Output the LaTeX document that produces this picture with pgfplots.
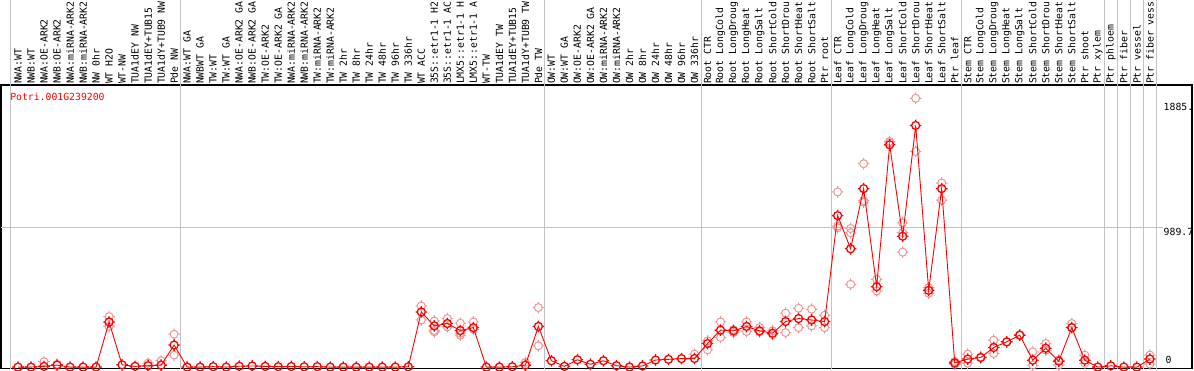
\documentclass[border=0pt]{standalone}
\usepackage{fontspec}
\setmainfont{DejaVu Sans Mono}
\usepackage{pgfplots}
\pgfplotsset{compat=1.18}
\definecolor{rep}{RGB}{238,150,150}
\definecolor{gridc}{RGB}{195,195,195}
\newcommand\lab{\fontsize{9.8}{9.8}\selectfont}
\pgfdeclareplotmark{tcirc}{%
  \pgfpathcircle{\pgfpointorigin}{\pgfplotmarksize}%
  \pgfpathmoveto{\pgfqpoint{0.8\pgfplotmarksize}{0pt}}\pgfpathlineto{\pgfqpoint{1.45\pgfplotmarksize}{0pt}}%
  \pgfpathmoveto{\pgfqpoint{-0.8\pgfplotmarksize}{0pt}}\pgfpathlineto{\pgfqpoint{-1.45\pgfplotmarksize}{0pt}}%
  \pgfpathmoveto{\pgfqpoint{0pt}{0.8\pgfplotmarksize}}\pgfpathlineto{\pgfqpoint{0pt}{1.45\pgfplotmarksize}}%
  \pgfpathmoveto{\pgfqpoint{0pt}{-0.8\pgfplotmarksize}}\pgfpathlineto{\pgfqpoint{0pt}{-1.45\pgfplotmarksize}}%
  \pgfusepathqstroke}
\begin{document}
\begin{tikzpicture}
\begin{axis}[
  at={(1pt,1.5pt)}, anchor=south west,
  scale only axis, width=1191pt, height=283.5pt,
  xmin=-0.307, xmax=91.24, ymin=-10, ymax=2000,
  enlargelimits=false,
  axis line style={black, line width=1.3pt},
  clip mode=individual,
  xtick={1,...,88},
  xticklabel pos=upper,
  major tick length=0pt,
  ytick=\empty,
  x tick label style={rotate=90, anchor=west, inner sep=0.8pt, font=\lab},
  xticklabels={NWA:WT,NWB:WT,NWA:OE-ARK2,NWB:OE-ARK2,NWA:miRNA-ARK2,NWB:miRNA-ARK2,NW 0hr,WT H2O,WT-NW,TUA1dEY NW,TUA1dEY+TUB15,TUA1dY+TUB9 NW,Pde NW,
  NWA:WT GA,NWBWT GA,TW:WT,TW:WT GA,NWA:OE-ARK2 GA,NWB:OE-ARK2 GA,TW:OE-ARK2,TW:OE-ARK2 GA,NWA:miRNA-ARK2,NWB:miRNA-ARK2,TW:miRNA-ARK2,TW:miRNA-ARK2,TW 2hr,TW 8hr,TW 24hr,TW 48hr,TW 96hr,TW 336hr,WT ACC,35S::etr1-1 H2,35S::etr1-1 AC,LMX5::etr1-1 H,LMX5::etr1-1 A,WT-TW,TUA1dEY TW,TUA1dEY+TUB15,TUA1dY+TUB9 TW,Pde TW,
  OW:WT,OW:WT GA,OW:OE-ARK2,OW:OE-ARK2 GA,OW:miRNA-ARK2,OW:miRNA-ARK2,OW 2hr,OW 8hr,OW 24hr,OW 48hr,OW 96hr,OW 336hr,
  Root CTR,Root LongCold,Root LongDroug,Root LongHeat,Root LongSalt,Root ShortCold,Root ShortDrou,Root ShortHeat,Root ShortSalt,Ptr root,
  Leaf CTR,Leaf LongCold,Leaf LongDroug,Leaf LongHeat,Leaf LongSalt,Leaf ShortCold,Leaf ShortDrou,Leaf ShortHeat,Leaf ShortSalt,Ptr leaf,
  Stem CTR,Stem LongCold,Stem LongDroug,Stem LongHeat,Stem LongSalt,Stem ShortCold,Stem ShortDrou,Stem ShortHeat,Stem ShortSalt,Ptr shoot,
  Ptr xylem,Ptr phloem,Ptr fiber,Ptr vessel,Ptr fiber vess},
]
% group separators
\pgfplotsinvokeforeach{0.42,13.5,41.5,53.5,63.5,73.5,84.5,85.5,86.5,87.5,88.5}{
  \draw[gridc, line width=1pt] (axis cs:#1,-10) -- ++(0pt,400pt);
}
\draw[gridc, line width=1pt] (axis cs:-0.307,989.7) -- (axis cs:89.0,989.7);
% replicates
\addplot[only marks, mark=tcirc, mark size=4pt, line width=1pt,
  mark options={draw=rep}] coordinates {
(3,38)(4,20)(8,358)(8,288)(11,28)(12,45)(13,233)(13,85)
(32,433)(32,334)(33,327)(33,250)(33,260)(34,344)(34,285)(35,311)(35,226)(35,240)(36,320)(36,268)
(40,33)(41,422)(41,151)(53,92)
(54,186)(54,122)(55,320)(55,210)(56,245)(56,265)(57,320)(57,252)(58,281)(58,250)(59,257)(59,230)
(60,382)(60,245)(61,417)(61,280)(62,410)(62,292)(63,367)(63,280)
(64,1242)(64,987)(64,1000)(65,983)(65,952)(65,587)(66,1442)(66,1169)(66,1180)(67,622)(67,540)
(68,1600)(68,1590)(69,1023)(69,815)(69,953)(70,1906)(70,1529)(71,563)(71,523)(72,1305)(72,1183)
(73,20)(73,40)(74,92)(74,28)(75,70)(76,191)(76,97)(77,180)(78,230)(79,108)(79,14)(80,167)(80,120)
(81,14)(81,50)(82,309)(82,280)(83,85)(83,28)(88,85)(88,21)
};
% mean line
\addplot[red, line width=0.9pt, mark=tcirc, mark size=4pt,
  mark options={line width=1.3pt, draw=red}] coordinates {
(1,0)(2,0)(3,5)(4,14)(5,0)(6,0)(7,0)(8,320)(9,16)(10,5)(11,10)(12,14)(13,156)
(14,0)(15,0)(16,3)(17,0)(18,6)(19,8)(20,5)(21,3)(22,4)(23,2)(24,3)(25,0)(26,0)(27,0)(28,0)(29,0)(30,0)(31,2)
(32,391)(33,292)(34,309)(35,259)(36,280)(37,0)(38,0)(39,2)(40,14)(41,288)
(42,45)(43,5)(44,52)(45,20)(46,45)(47,10)(48,0)(49,8)(50,50)(51,55)(52,60)(53,61)
(54,167)(55,262)(56,257)(57,288)(58,257)(59,240)(60,323)(61,344)(62,334)(63,323)
(64,1074)(65,839)(66,1265)(67,570)(68,1576)(69,928)(70,1713)(71,544)(72,1265)(73,30)
(74,57)(75,68)(76,139)(77,179)(78,226)(79,49)(80,134)(81,42)(82,280)(83,49)
(84,0)(85,9)(86,0)(87,0)(88,57)
};
% title and value labels
\node[anchor=west, inner sep=0pt, text=red, font=\lab] at (rel axis cs:0.0076,0.958) {Potri.001G239200};
\node[anchor=west, inner sep=0pt, font=\lab, yshift=-5.5pt] at (axis cs:89.05,1885) {1885.};
\node[anchor=west, inner sep=0pt, font=\lab, yshift=-4pt] at (axis cs:89.05,989.7) {989.7};
\node[anchor=west, inner sep=0pt, font=\lab, yshift=7pt] at (axis cs:89.2,0) {0};
\end{axis}
\pgfresetboundingbox
\path[use as bounding box] (0,0) rectangle (1194pt,370pt);
\end{tikzpicture}
\end{document}
